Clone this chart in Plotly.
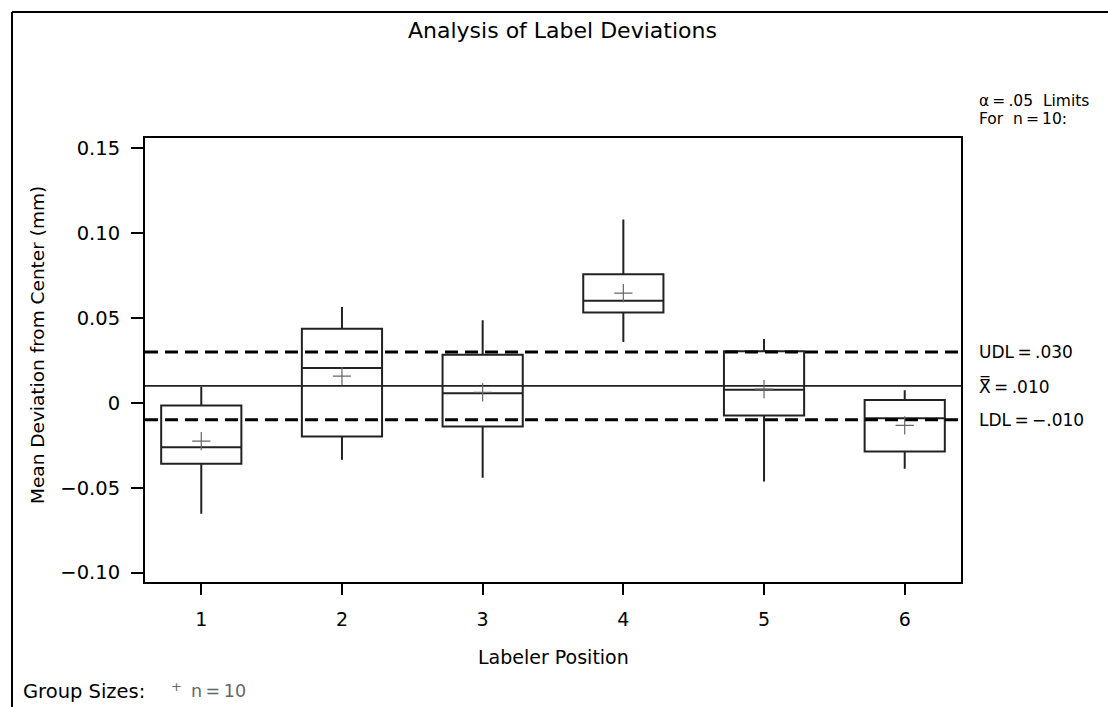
import plotly.graph_objects as go

# ---- data ----
positions = [1, 2, 3, 4, 5, 6]
whisker_low = [-0.0653, -0.0335, -0.0441, 0.0359, -0.0463, -0.0388]
q1_vals = [-0.0359, -0.0198, -0.0139, 0.0532, -0.0074, -0.0286]
median_vals = [-0.0262, 0.0205, 0.0056, 0.0602, 0.0078, -0.0090]
q3_vals = [-0.0015, 0.0437, 0.0284, 0.0758, 0.0304, 0.0017]
whisker_high = [0.0093, 0.0565, 0.0486, 0.1080, 0.0376, 0.0074]
mean_vals = [-0.0225, 0.0158, 0.0062, 0.0646, 0.0081, -0.0133]

center_line = 0.010
udl = 0.030
ldl = -0.010

y_tickvals = [-0.10, -0.05, 0.0, 0.05, 0.10, 0.15]
y_ticktext = ["\u22120.10", "\u22120.05", "0", "0.05", "0.10", "0.15"]
x_tickvals = [1, 2, 3, 4, 5, 6]
x_ticktext = ["1", "2", "3", "4", "5", "6"]

FONT = "DejaVu Sans"
INK = "#222222"
GRAY = "#666666"
TS = "\u2009"  # thin space

fig = go.Figure()

fig.add_trace(go.Box(
    x=positions, q1=q1_vals, median=median_vals, q3=q3_vals,
    lowerfence=whisker_low, upperfence=whisker_high,
    width=0.57, whiskerwidth=0, boxpoints=False,
    fillcolor="rgba(0,0,0,0)", line=dict(color=INK, width=2),
    showlegend=False, hoverinfo="skip",
))

x_span = [0.6, 6.4]
fig.add_trace(go.Scatter(x=x_span, y=[udl, udl], mode="lines",
                         line=dict(color="black", width=3, dash="13px,7px"),
                         showlegend=False, hoverinfo="skip"))
fig.add_trace(go.Scatter(x=x_span, y=[ldl, ldl], mode="lines",
                         line=dict(color="black", width=3, dash="13px,7px"),
                         showlegend=False, hoverinfo="skip"))
fig.add_trace(go.Scatter(x=x_span, y=[center_line, center_line], mode="lines",
                         line=dict(color=INK, width=1.7),
                         showlegend=False, hoverinfo="skip"))

fig.add_trace(go.Scatter(
    x=positions, y=mean_vals, mode="markers",
    marker=dict(symbol="cross-thin", size=13, line=dict(color=GRAY, width=1.2)),
    showlegend=False, hoverinfo="skip",
))

L, R, T, B = 145, 147, 138, 125
W, H = 1108, 707
pw, ph = W - L - R, H - T - B


def px_x(x):
    return (x - L) / pw


def px_y(y):
    return (H - B - y) / ph


annotations = [
    dict(text="Analysis of Label Deviations", x=px_x(562), y=px_y(31),
         xanchor="center", yanchor="middle", font=dict(size=22)),
    dict(text="Mean Deviation from Center (mm)", x=px_x(37), y=px_y(345),
         xanchor="center", yanchor="middle", textangle=-90, font=dict(size=18.5)),
    dict(text="Labeler Position", x=0.5, y=px_y(657),
         xanchor="center", yanchor="middle", font=dict(size=19)),
    dict(text=f"\u03b1{TS}={TS}.05  Limits", x=px_x(977), y=px_y(100.5),
         xanchor="left", yanchor="middle", font=dict(size=15.5)),
    dict(text=f"For  n{TS}={TS}10:", x=px_x(977), y=px_y(119),
         xanchor="left", yanchor="middle", font=dict(size=15.5)),
    dict(text=f"UDL{TS}={TS}.030", x=px_x(977), y=udl, yref="y",
         xanchor="left", yanchor="middle", font=dict(size=17)),
    dict(text=f"X\u033f{TS}={TS}.010", x=px_x(977), y=center_line, yref="y",
         xanchor="left", yanchor="middle", font=dict(size=17)),
    dict(text=f"LDL{TS}={TS}\u2212.010", x=px_x(977), y=ldl, yref="y",
         xanchor="left", yanchor="middle", font=dict(size=17)),
    dict(text="Group Sizes:", x=px_x(21), y=px_y(691),
         xanchor="left", yanchor="middle", font=dict(size=19.5)),
    dict(text="+", x=px_x(176.5), y=px_y(686),
         xanchor="center", yanchor="middle", font=dict(size=13, color=GRAY)),
    dict(text=f"n{TS}={TS}10", x=px_x(189), y=px_y(691),
         xanchor="left", yanchor="middle", font=dict(size=17.5, color=GRAY)),
]
for a in annotations:
    a.setdefault("xref", "paper")
    a.setdefault("yref", "paper")
    a["showarrow"] = False
    f = a.get("font", {})
    f.setdefault("family", FONT)
    f.setdefault("color", "black")
    a["font"] = f

shapes = [
    dict(type="line", xref="paper", yref="paper",
         x0=px_x(12), x1=px_x(1120), y0=px_y(12), y1=px_y(12),
         line=dict(color="black", width=2)),
    dict(type="line", xref="paper", yref="paper",
         x0=px_x(12), x1=px_x(12), y0=px_y(12), y1=px_y(720),
         line=dict(color="black", width=2)),
]

fig.update_layout(
    width=W, height=H,
    margin=dict(l=L, r=R, t=T, b=B),
    paper_bgcolor="white", plot_bgcolor="white",
    font=dict(family=FONT, size=20, color="black"),
    annotations=annotations, shapes=shapes,
    showlegend=False,
)
fig.update_xaxes(
    range=[0.6, 6.4], tickvals=x_tickvals, ticktext=x_ticktext,
    showgrid=False, zeroline=False, showline=True, linecolor="black", linewidth=2,
    mirror=True, ticks="outside", ticklen=11, tickwidth=2, tickcolor="black",
    tickfont=dict(family=FONT, size=19), ticklabelstandoff=8,
)
fig.update_yaxes(
    range=[-0.1055, 0.156], tickvals=y_tickvals, ticktext=y_ticktext,
    showgrid=False, zeroline=False, showline=True, linecolor="black", linewidth=2,
    mirror=True, ticks="outside", ticklen=12, tickwidth=2, tickcolor="black",
    tickfont=dict(family=FONT, size=19.5), ticklabelstandoff=7,
)

fig.write_html(
    "out.html",
    config={"displayModeBar": False, "staticPlot": True},
    post_script="document.body.style.margin='0px';document.body.style.padding='0px';",
)
